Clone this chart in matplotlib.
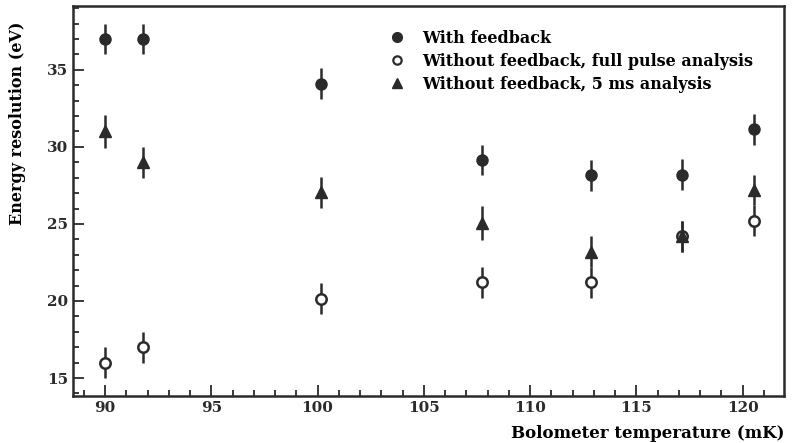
import numpy as np
import matplotlib.pyplot as plt
import matplotlib.ticker as mticker
from matplotlib.lines import Line2D
import matplotlib

matplotlib.rcParams.update({'font.family': 'DejaVu Serif', 'font.weight': 'bold', 'font.size': 11})

# bolometer temperatures (mK)
temp = [90.0, 91.8, 100.15, 107.75, 112.85, 117.15, 120.55]

# energy resolution (eV)
with_fb = [37.0, 37.0, 34.1, 29.15, 28.15, 28.2, 31.15]
with_fb_err = [1.0, 1.0, 1.0, 1.0, 1.0, 1.0, 1.0]

no_fb_full = [16.0, 17.0, 20.15, 21.2, 21.2, 24.2, 25.2]
no_fb_full_err = [1.0, 1.0, 1.0, 1.0, 1.0, 1.0, 1.0]

no_fb_5ms = [31.0, 29.0, 27.05, 25.05, 23.2, 24.2, 27.2]
no_fb_5ms_err = [1.1, 1.0, 1.0, 1.1, 1.0, 1.0, 1.0]

labels = ['With feedback', 'Without feedback, full pulse analysis', 'Without feedback, 5 ms analysis']

ink = '#2b2b2b'

fig = plt.figure(figsize=(7.96, 4.43), dpi=100)
ax1 = fig.add_axes([0.092, 0.106, 0.893, 0.881])

ax1.errorbar(temp, no_fb_full, yerr=no_fb_full_err, fmt='o', ms=7.5, mfc='white', mec=ink, mew=1.8,
             ecolor=ink, elinewidth=1.8, capsize=0, zorder=3)
ax1.errorbar(temp, no_fb_5ms, yerr=no_fb_5ms_err, fmt='^', ms=8, mfc=ink, mec=ink,
             ecolor=ink, elinewidth=1.8, capsize=0, zorder=4)
ax1.errorbar(temp, with_fb, yerr=with_fb_err, fmt='o', ms=8, mfc=ink, mec=ink,
             ecolor=ink, elinewidth=1.8, capsize=0, zorder=4)

ax1.set_xlim(88.5, 121.95)
ax1.set_ylim(13.83, 39.16)
ax1.xaxis.set_major_locator(mticker.MultipleLocator(5))
ax1.xaxis.set_minor_locator(mticker.MultipleLocator(1))
ax1.yaxis.set_major_locator(mticker.MultipleLocator(5))
ax1.yaxis.set_minor_locator(mticker.MultipleLocator(1))
ax1.tick_params(which='both', direction='in', top=False, right=False, width=1.3, colors=ink)
ax1.tick_params(which='major', length=8)
ax1.tick_params(which='minor', length=4)
for s in ax1.spines.values():
    s.set_linewidth(1.8)
    s.set_color(ink)

ax1.set_ylabel('Energy resolution (eV)', fontsize=11.5, fontweight='bold')
ax1.yaxis.set_label_coords(-0.066, 0.70)
ax1.set_xlabel('Bolometer temperature (mK)', fontsize=12, fontweight='bold', ha='right')
ax1.xaxis.set_label_coords(1.0, -0.075)

# legend without error bars
handles = [Line2D([], [], ls='none', marker='o', ms=7, mfc=ink, mec=ink),
           Line2D([], [], ls='none', marker='o', ms=6, mfc='white', mec=ink, mew=1.6),
           Line2D([], [], ls='none', marker='^', ms=6.5, mfc=ink, mec=ink)]
ax1.legend(handles, labels, loc='upper left', bbox_to_anchor=(0.413, 0.976),
           frameon=False, handletextpad=0.55, labelspacing=0.38, fontsize=11.5)

plt.savefig('out.png', dpi=100)
